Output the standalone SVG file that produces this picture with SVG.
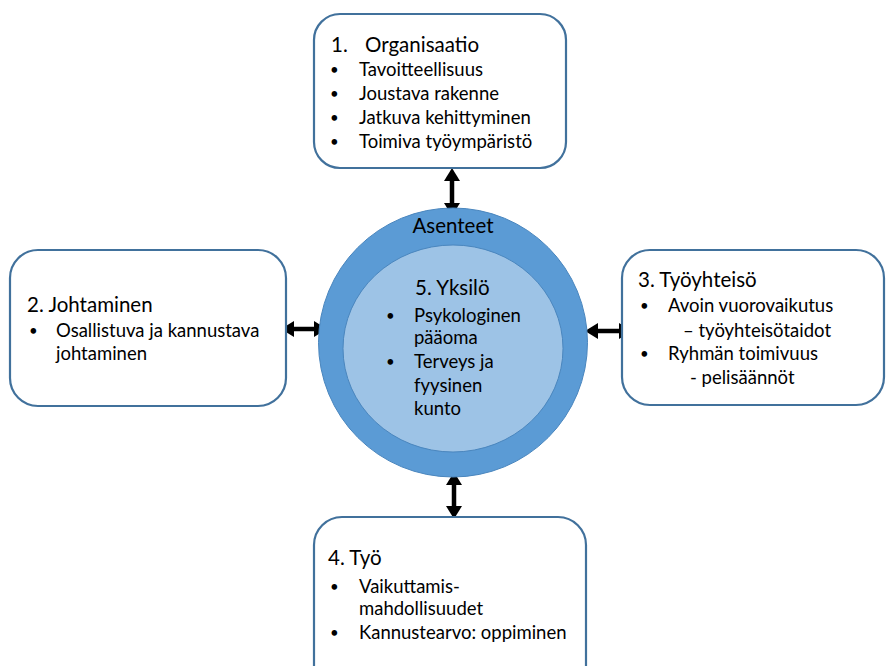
<svg xmlns="http://www.w3.org/2000/svg" width="886" height="666" viewBox="0 0 886 666">
<defs>
<marker id="ah" viewBox="0 0 13 16" markerWidth="13" markerHeight="16" refX="2" refY="8" orient="auto-start-reverse" markerUnits="userSpaceOnUse">
<path d="M0,0 L13,8 L0,16 z" fill="#000"/>
</marker>
<style>
.box{fill:#fff;stroke:#41719C;stroke-width:2.2}
text{font-family:Lato,"Liberation Sans",sans-serif;fill:#000}
.t{font-size:20.5px}
.b{font-size:18.5px}
.d{font-size:15px}
.c{stroke:#000;stroke-width:4.5;fill:none;marker-start:url(#ah);marker-end:url(#ah)}
</style>
</defs>
<rect width="886" height="666" fill="#fff"/>
<g id="connectors">
<path class="c" d="M452,179 L452,205"/>
<path class="c" d="M454,483 L454,508"/>
<path class="c" d="M292,329 L316,329"/>
<path class="c" d="M596,331 L621,331"/>
</g>
<g id="node5">
<circle cx="453" cy="342.5" r="134.5" fill="#5B9BD5" stroke="#4A86BE" stroke-width="1"/>
<ellipse cx="453" cy="348.5" rx="110" ry="103.5" fill="#9DC3E6" stroke="#4A86BE" stroke-width="1"/>
<text class="t" x="453" y="233" text-anchor="middle">Asenteet</text>
<text class="t" x="415" y="295">5. Yksilö</text>
<text class="d" x="386" y="321">•</text>
<text class="b" x="414" y="322">Psykologinen</text>
<text class="b" x="414" y="344">pääoma</text>
<text class="d" x="386" y="367">•</text>
<text class="b" x="414" y="368">Terveys ja</text>
<text class="b" x="414" y="392">fyysinen</text>
<text class="b" x="414" y="415">kunto</text>
</g>
<g id="node1">
<rect class="box" x="314" y="14" width="252" height="154" rx="26"/>
<text class="t" x="331" y="52">1.</text>
<text class="t" x="365" y="52">Organisaatio</text>
<text class="d" x="330" y="75">•</text><text class="b" x="359" y="76">Tavoitteellisuus</text>
<text class="d" x="330" y="99">•</text><text class="b" x="359" y="100">Joustava rakenne</text>
<text class="d" x="330" y="123">•</text><text class="b" x="359" y="124">Jatkuva kehittyminen</text>
<text class="d" x="330" y="147">•</text><text class="b" x="359" y="148">Toimiva työympäristö</text>
</g>
<g id="node2">
<rect class="box" x="10" y="250" width="276" height="156" rx="28"/>
<text class="t" x="27" y="312">2. Johtaminen</text>
<text class="d" x="29" y="336">•</text><text class="b" x="56" y="337">Osallistuva ja kannustava</text>
<text class="b" x="56" y="360">johtaminen</text>
</g>
<g id="node3">
<rect class="box" x="622" y="250" width="262" height="155" rx="28"/>
<text class="t" x="638" y="287">3. Työyhteisö</text>
<text class="d" x="640" y="311">•</text><text class="b" x="668" y="312">Avoin vuorovaikutus</text>
<text class="b" x="683" y="337">– työyhteisötaidot</text>
<text class="d" x="640" y="359">•</text><text class="b" x="668" y="360">Ryhmän toimivuus</text>
<text class="b" x="690" y="384">- pelisäännöt</text>
</g>
<g id="node4">
<rect class="box" x="314" y="517" width="272" height="180" rx="28"/>
<text class="t" x="328" y="565">4. Työ</text>
<text class="d" x="330" y="592">•</text><text class="b" x="359" y="593">Vaikuttamis-</text>
<text class="b" x="359" y="615">mahdollisuudet</text>
<text class="d" x="330" y="638">•</text><text class="b" x="359" y="639">Kannustearvo: oppiminen</text>
</g>
</svg>
